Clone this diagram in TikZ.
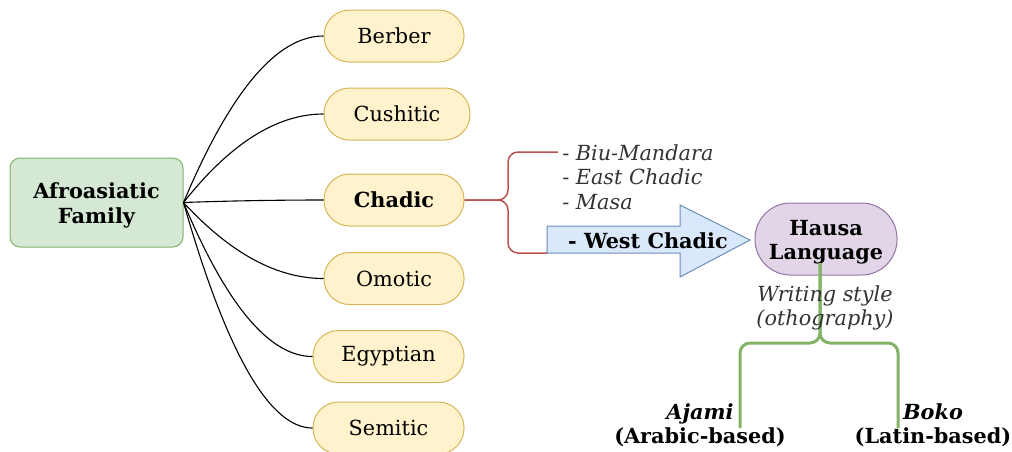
\documentclass[tikz,border=0pt]{standalone}
\usepackage{fontspec}
\setmainfont{DejaVu Serif}
\usetikzlibrary{calc}
\newlength\pxu \setlength\pxu{0.75pt}
\newcommand\basefont{\fontsize{15.6}{18.4}\selectfont}
\newcommand\topstrut{\rule{0pt}{16pt}}
\definecolor{gfill}{HTML}{D5E8D4}
\definecolor{gline}{HTML}{82B366}
\definecolor{yfill}{HTML}{FFF2CC}
\definecolor{yline}{HTML}{D6B656}
\definecolor{bfill}{HTML}{DAE8FC}
\definecolor{bline}{HTML}{6C8EBF}
\definecolor{pfill}{HTML}{E1D5E7}
\definecolor{pline}{HTML}{9673A6}
\definecolor{rline}{HTML}{B85450}
\definecolor{txtgray}{HTML}{333333}
\begin{document}
\begin{tikzpicture}[x=0.75pt,y=-0.75pt,
  famst/.style={draw=gline, fill=gfill, rounded corners=10\pxu, minimum width=173\pxu, minimum height=89\pxu, line width=1\pxu, align=center, font=\basefont\bfseries, inner sep=0pt},
  yel/.style={draw=yline, fill=yfill, rounded corners=25.5\pxu, minimum width=140\pxu, minimum height=52\pxu, line width=1\pxu, font=\basefont, inner sep=0pt},
  hausast/.style={draw=pline, fill=pfill, rounded corners=35.5\pxu, minimum width=142\pxu, minimum height=72\pxu, line width=1\pxu, align=center, font=\basefont\bfseries, inner sep=0pt},
  arrowst/.style={draw=bline, fill=bfill, line width=1\pxu},
  edge/.style={draw=black, line width=1.1\pxu},
  redst/.style={draw=rline, line width=1.5\pxu, rounded corners=10\pxu},
  greenst/.style={draw=gline, line width=3\pxu, rounded corners=10\pxu},
  note/.style={text=txtgray, font=\basefont\itshape, inner sep=0pt},
  lbl/.style={align=center, font=\basefont\bfseries, inner sep=0pt}
]
\useasboundingbox (0,0) rectangle (1012,451);

% family node
\node[famst] (af) at (96.5,202.5) {\topstrut Afroasiatic\\Family};

% branches
\node[yel] (berber) at (394,36) {Berber};
\node[yel, minimum width=146\pxu] (cush) at (397,114) {Cushitic};
\node[yel, font=\basefont\bfseries] (chad) at (394,200) {Chadic};
\node[yel] (omo) at (394,278.5) {Omotic};
\node[yel, minimum width=151\pxu] (egy) at (388.5,356.5) {Egyptian};
\node[yel, minimum width=151\pxu] (sem) at (388.5,428) {Semitic};

% curved connectors
\foreach \t in {berber,cush,chad,omo,egy,sem}{
  \coordinate (m) at ($(af.east)!.5!(\t.west)$);
  \coordinate (c) at (m |- \t.west);
  \draw[edge] (af.east) .. controls ($(af.east)!2/3!(c)$) and ($(\t.west)!2/3!(c)$) .. (\t.west);
}

% West Chadic arrow
\draw[arrowst] (547,226) -- (680,226) -- (680,205) -- (750,240) -- (680,277) -- (680,253) -- (547,253) -- cycle;
\coordinate (wcl) at (547,253);
\node[lbl] (wc) at (648,241) {- West Chadic};

% Chadic subgroups
\coordinate (brx) at (508,200);
\coordinate (bru) at (558,152);
\draw[redst] (chad.east) -- (chad.east -| brx) -- (brx |- bru) -- (bru);
\draw[redst] (chad.east) -- (chad.east -| brx) -- (brx |- wcl) -- (wcl);
\node[note, align=left, anchor=west] (list) at (562,177) {- Biu-Mandara\\- East Chadic\\- Masa};

% Hausa
\node[hausast] (hausa) at (826,239) {\topstrut Hausa\\Language};

% writing styles
\coordinate (gs) at (820,263);
\coordinate (gj) at (820,343);
\coordinate (ga) at (740,428);
\coordinate (gb) at (898,428);
\draw[greenst] (gs) -- (gj) -| (ga);
\draw[greenst] (gs) -- (gj) -| (gb);
\node[note, align=center] (ws) at (825,308) {Writing style\\(othography)};

\node[lbl] (aj) at (700,425) {\textit{Ajami}\\(Arabic-based)};
\node[lbl] (bk) at (933,425) {\textit{Boko}\\(Latin-based)};
\end{tikzpicture}
\end{document}
